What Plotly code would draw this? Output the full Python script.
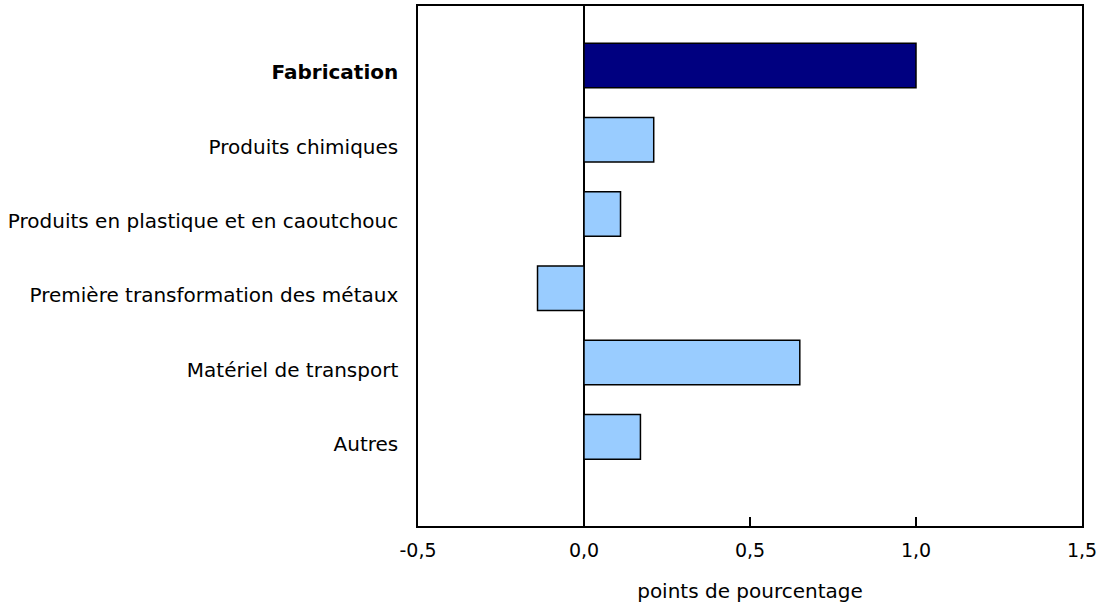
import plotly.graph_objects as go

categories = ["Fabrication", "Produits chimiques", "Produits en plastique et en caoutchouc",
              "Première transformation des métaux", "Matériel de transport", "Autres"]
tick_labels = ["<b>Fabrication</b>", "Produits chimiques", "Produits en plastique et en caoutchouc",
               "Première transformation des métaux", "Matériel de transport", "Autres"]
values = [1.00, 0.21, 0.11, -0.14, 0.65, 0.17]
bar_colors = ["#000080", "#99CCFF", "#99CCFF", "#99CCFF", "#99CCFF", "#99CCFF"]

x_tickvals = [-0.5, 0.0, 0.5, 1.0, 1.5]
x_ticktext = ["-0,5", "0,0", "0,5", "1,0", "1,5"]
x_title = "points de pourcentage"

FONT = "DejaVu Sans, Verdana, sans-serif"

fig = go.Figure(go.Bar(
    x=values,
    y=categories,
    orientation="h",
    width=0.6,
    marker=dict(color=bar_colors, line=dict(color="#000000", width=1.5)),
    hoverinfo="x+y",
))

fig.update_layout(
    width=1101, height=603,
    margin=dict(l=418, r=19, t=6, b=77),
    paper_bgcolor="white", plot_bgcolor="white",
    font=dict(family=FONT, size=20, color="#000000"),
    showlegend=False,
    bargap=0.4,
)

fig.update_xaxes(
    range=[-0.5, 1.5],
    tickvals=x_tickvals, ticktext=x_ticktext,
    ticks="inside", ticklen=9, tickwidth=1.5, tickcolor="#000000",
    showline=True, linecolor="#000000", linewidth=1.5, mirror=True,
    showgrid=False,
    zeroline=True, zerolinecolor="#000000", zerolinewidth=1.5,
    title=dict(text=x_title, font=dict(family=FONT, size=20), standoff=25),
    ticklabelstandoff=6,
    tickfont=dict(family=FONT, size=19),
    automargin=False,
)

fig.update_yaxes(
    type="category",
    categoryorder="array", categoryarray=categories,
    tickvals=categories, ticktext=tick_labels,
    range=[6.2, -0.8],
    ticks="",
    showline=True, linecolor="#000000", linewidth=1.5, mirror=True,
    showgrid=False,
    ticklabelstandoff=14,
    ticklabelshift=-7,
    tickfont=dict(family=FONT, size=20),
    automargin=False,
)

fig.write_html("out.html", config={"displayModeBar": False},
               post_script="document.body.style.margin='0';document.body.style.overflow='hidden';")
